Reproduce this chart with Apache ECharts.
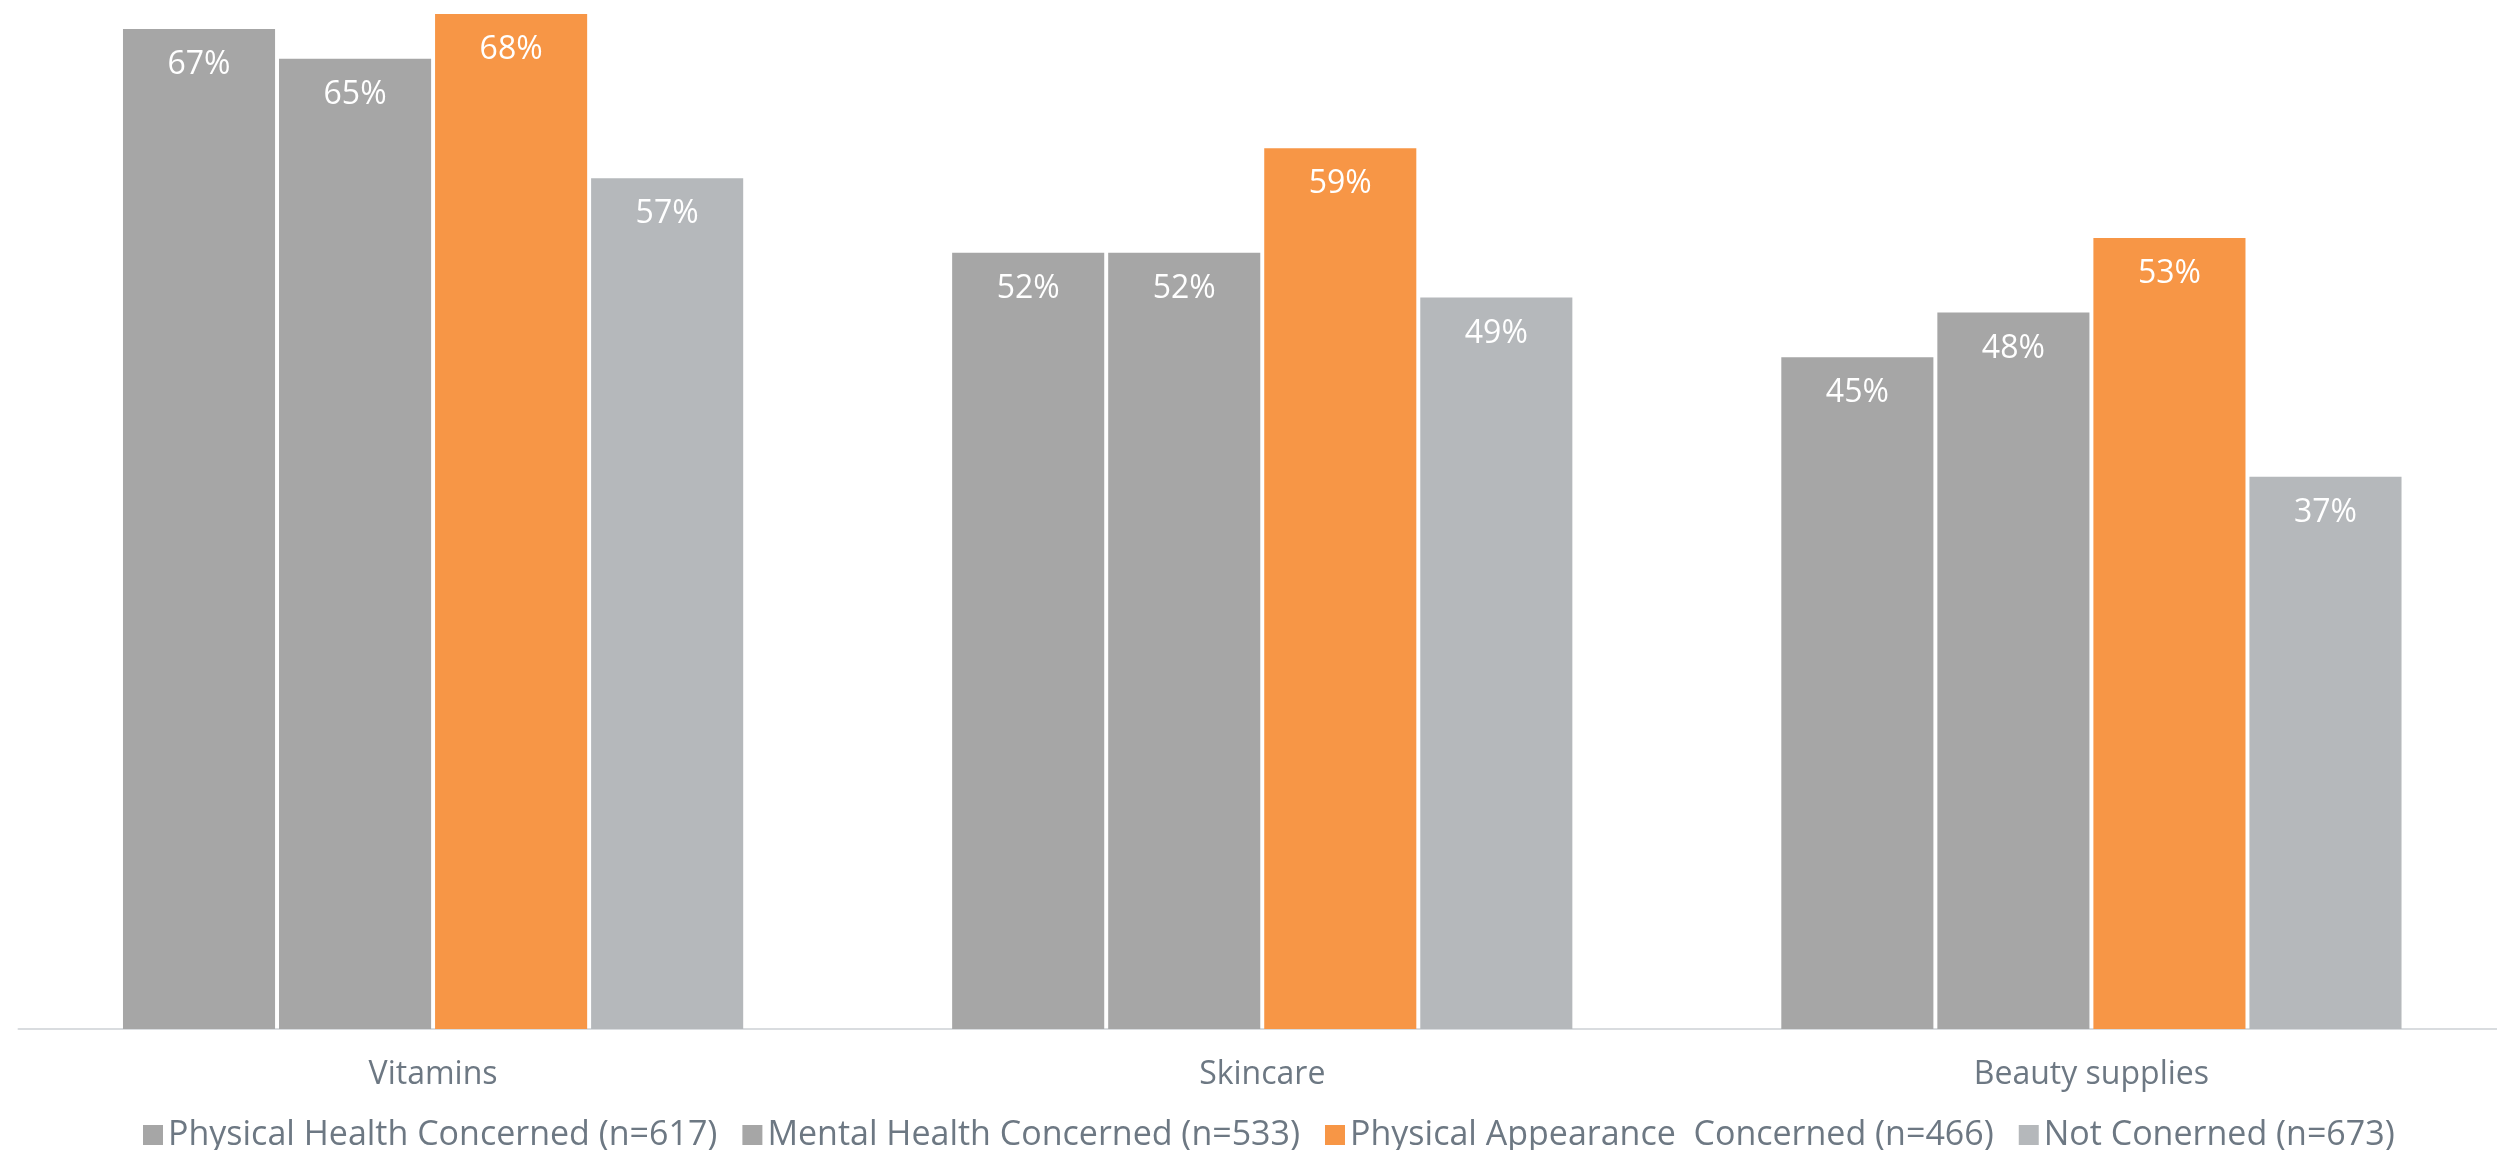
<!DOCTYPE html>
<html>
<head>
<meta charset="utf-8">
<script src="https://cdn.jsdelivr.net/npm/echarts@6/dist/echarts.min.js"></script>
<style>
  html, body { margin: 0; padding: 0; background: #ffffff; overflow: hidden; }
  /* the axis runs a few pixels past the right edge of the window */
  #chart { width: 2506px; height: 1150px; }
</style>
</head>
<body>
<div id="chart"></div>
<script>
// Product categories along the x axis
const categories = ['Vitamins', 'Skincare', 'Beauty supplies'];

// Share of each group buying in each category (%)
const physicalHealth = [67, 52, 45];
const mentalHealth = [65, 52, 48];
const physicalAppearance = [68, 59, 53];
const notConcerned = [57, 49, 37];

const seriesNames = [
  'Physical Health Concerned (n=617)',
  'Mental Health Concerned (n=533)',
  'Physical Appearance  Concerned (n=466)',
  'Not Conerned (n=673)'
];
const seriesValues = [physicalHealth, mentalHealth, physicalAppearance, notConcerned];
const seriesColors = ['#a6a6a6', '#a6a6a6', '#f79646', '#b5b8bb'];

const FONT = '"Open Sans"';
const TEXT_COLOR = '#6d7883';

const chart = echarts.init(document.getElementById('chart'));

chart.setOption({
  animation: false,
  backgroundColor: '#ffffff',
  grid: { left: 18.5, right: 0, top: 14, bottom: 121, containLabel: false },
  legend: {
    data: seriesNames,
    top: 1118,
    left: 143,
    padding: 0,
    itemWidth: 20,
    itemHeight: 20,
    itemGap: 25,
    icon: 'rect',
    textStyle: { fontFamily: FONT, fontSize: 34, lineHeight: 34, color: TEXT_COLOR }
  },
  xAxis: {
    type: 'category',
    data: categories,
    axisLine: { show: true, lineStyle: { color: '#d9dcdf', width: 2 } },
    axisTick: { show: false },
    axisLabel: { fontFamily: FONT, fontSize: 32, color: TEXT_COLOR, margin: 30 }
  },
  yAxis: {
    type: 'value',
    min: 0,
    max: 68,
    show: false,
    splitLine: { show: false }
  },
  series: seriesNames.map((name, i) => ({
    name: name,
    type: 'bar',
    data: seriesValues[i],
    barGap: '2.6%',
    barCategoryGap: '25.2%',
    itemStyle: { color: seriesColors[i] },
    label: {
      show: true,
      position: 'insideTop',
      distance: 20,
      formatter: '{c}%',
      fontFamily: FONT,
      fontSize: 32,
      color: '#ffffff'
    }
  }))
});
</script>
</body>
</html>
